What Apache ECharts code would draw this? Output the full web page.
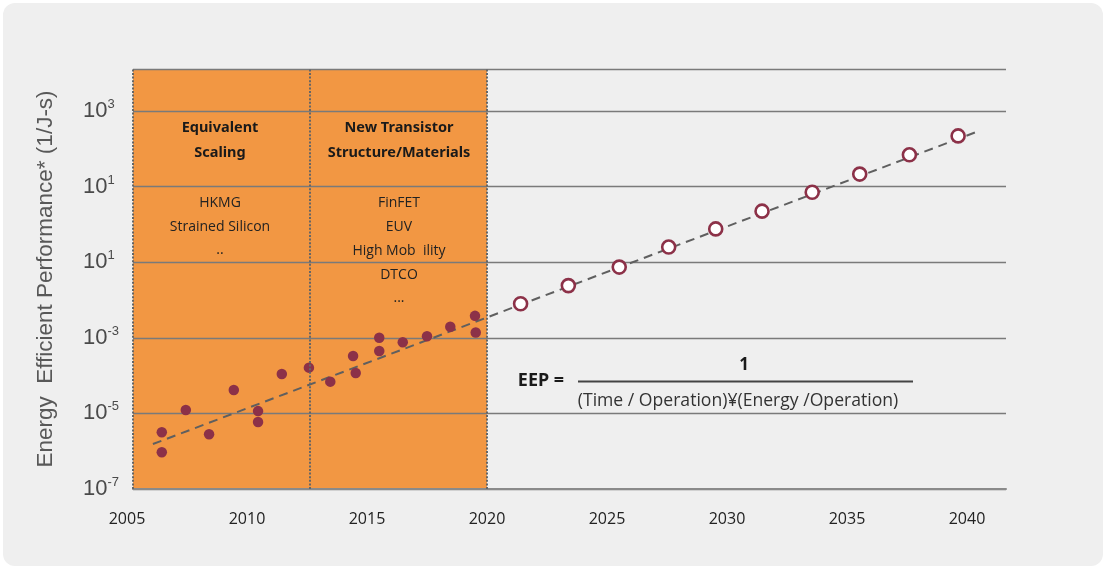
<!DOCTYPE html>
<html>
<head>
<meta charset="utf-8">
<script src="https://cdn.jsdelivr.net/npm/echarts@6/dist/echarts.min.js"></script>
<style>
  html, body { margin: 0; padding: 0; background: #ffffff; }
  #bg { position: absolute; left: 3px; top: 3px; width: 1100px; height: 563px; border-radius: 12px; background: #efefef; }
  #chart { position: absolute; left: 0; top: 0; width: 1106px; height: 569px; }
</style>
</head>
<body>
<div id="bg"></div>
<div id="chart"></div>
<script>
// ---- Data (EEP values stored as log10 exponents) ----
const histYears = [2006.45, 2006.45, 2007.45, 2008.42, 2009.45, 2010.46, 2010.46, 2011.45, 2012.58, 2013.47, 2014.42, 2014.53, 2015.51, 2015.51, 2016.49, 2017.5, 2018.47, 2019.5, 2019.53];
const histEEP   = [-5.5, -6.03, -4.91, -5.55, -4.38, -4.94, -5.23, -3.96, -3.79, -4.16, -3.48, -3.93, -3.0, -3.35, -3.12, -2.96, -2.71, -2.42, -2.86];
const projYears = [2021.4, 2023.39, 2025.51, 2027.57, 2029.53, 2031.46, 2033.55, 2035.53, 2037.6, 2039.63];
const projEEP   = [-2.10, -1.62, -1.13, -0.60, -0.12, 0.35, 0.85, 1.33, 1.84, 2.34];
const trendYears = [2006.08, 2040.33];
const trendEEP   = [-5.81, 2.43];
const xTickYears = [2005, 2010, 2015, 2020, 2025, 2030, 2035, 2040];
const yTickValues = [-7, -5, -3, -1, 1, 3];
const yTickSup    = ['-7', '-5', '-3', '1', '1', '3'];
const phaseBounds = [2005.25, 2012.625, 2020];
const phase1Title = ['Equivalent', 'Scaling'];
const phase1Items = ['HKMG', 'Strained Silicon', '..'];
const phase2Title = ['New Transistor', 'Structure/Materials'];
const phase2Items = ['FinFET', 'EUV', 'High Mob  ility', 'DTCO', '...'];
const yAxisName = 'Energy  Efficient Performance* (1/J-s)';

const MAROON = '#8c3148';
const ORANGE = '#f29743';

const chart = echarts.init(document.getElementById('chart'), null, { renderer: 'canvas' });

const histData = histYears.map((y, i) => [y, histEEP[i]]);
const projData = projYears.map((y, i) => [y, projEEP[i]]);
const trendData = trendYears.map((y, i) => [y, trendEEP[i]]);

const graphics = [];
function txt(x, y, s, bold, size, color, family) {
  graphics.push({
    type: 'text', x: x, y: y, silent: true, z: 50,
    style: {
      text: s, textAlign: 'center', textVerticalAlign: 'middle',
      font: (bold ? 'bold ' : '') + size + 'px ' + family,
      fill: color
    }
  });
}
const boldFam = '"Noto Sans", sans-serif';
const regFam = '"Open Sans", sans-serif';
txt(220, 128, phase1Title[0], true, 14.5, '#1a1a1a', boldFam);
txt(220, 153, phase1Title[1], true, 14.5, '#1a1a1a', boldFam);
txt(399, 128, phase2Title[0], true, 14.5, '#1a1a1a', boldFam);
txt(399, 153, phase2Title[1], true, 14.5, '#1a1a1a', boldFam);
const p1y = [203, 227, 250];
phase1Items.forEach((s, i) => txt(220, p1y[i], s, false, 14, '#222', regFam));
const p2y = [203, 227, 251, 275, 298];
phase2Items.forEach((s, i) => txt(399, p2y[i], s, false, 14, '#222', regFam));
// equation
txt(541, 381, 'EEP =', true, 18, '#1a1a1a', boldFam);
txt(744, 365, '1', true, 17, '#1a1a1a', boldFam);
txt(738, 401, '(Time / Operation)\u00a5(Energy /Operation)', false, 17.6, '#333', regFam);
graphics.push({ type: 'line', silent: true, z: 50, shape: { x1: 578, y1: 381.5, x2: 913, y2: 381.5 }, style: { stroke: '#444', lineWidth: 2 } });

const option = {
  backgroundColor: 'transparent',
  animation: false,
  grid: [
    { left: 133, top: 69, width: 873, height: 420 },
    { left: 127, top: 69, width: 879, height: 420 }
  ],
  xAxis: [
    {
      type: 'value', gridIndex: 0, min: phaseBounds[0], max: 2041.625,
      axisLine: { show: true, onZero: false, lineStyle: { color: '#8a8a8a', width: 2 } },
      axisTick: { show: false }, axisLabel: { show: false }, splitLine: { show: false }
    },
    {
      type: 'value', gridIndex: 1, min: 2005, max: 2041.625, interval: 5,
      axisLine: { show: false, onZero: false }, axisTick: { show: false }, splitLine: { show: false },
      axisLabel: {
        margin: 22, color: '#222', fontSize: 16, fontFamily: 'Open Sans',
        formatter: v => xTickYears.includes(v) ? String(v) : ''
      }
    }
  ],
  yAxis: [
    {
      type: 'value', gridIndex: 0, min: -7, max: 4.11, interval: 2,
      name: yAxisName, nameLocation: 'middle', nameGap: 76,
      nameTextStyle: { fontSize: 22.5, color: '#585858', fontFamily: 'Liberation Sans' },
      axisLine: { show: false }, axisTick: { show: false },
      splitLine: { show: true, lineStyle: { color: '#7a7a7a', width: 1.3 } },
      axisLabel: {
        align: 'left', margin: 50,
        formatter: v => {
          const i = yTickValues.indexOf(v);
          return i < 0 ? '' : '{b|10}{s|' + yTickSup[i] + '}';
        },
        rich: {
          b: { fontSize: 22, color: '#4a4a4a', fontFamily: 'Liberation Sans', lineHeight: 26 },
          s: { fontSize: 13, color: '#4a4a4a', fontFamily: 'Liberation Sans', verticalAlign: 'top', lineHeight: 14 }
        }
      }
    },
    { type: 'value', gridIndex: 1, min: -7, max: 4.11, show: false }
  ],
  series: [
    {
      name: 'band', type: 'line', xAxisIndex: 0, yAxisIndex: 0, data: [], z: -1,
      markArea: {
        silent: true, z: -1,
        itemStyle: { color: ORANGE },
        data: [[{ xAxis: phaseBounds[0] }, { xAxis: phaseBounds[2] }]]
      }
    },
    {
      name: 'trend', type: 'line', xAxisIndex: 0, yAxisIndex: 0, data: trendData,
      symbol: 'none', z: 3,
      lineStyle: { color: '#5f5f5f', width: 2, type: [9, 6] },
      markLine: {
        silent: true, symbol: 'none', label: { show: false },
        lineStyle: { color: '#666', width: 2, type: [2, 1.6] },
        data: phaseBounds.map(b => ({ xAxis: b }))
      }
    },
    {
      name: 'historical', type: 'scatter', xAxisIndex: 0, yAxisIndex: 0, data: histData,
      symbol: 'circle', symbolSize: 10.5, z: 4,
      itemStyle: { color: MAROON, opacity: 1 }
    },
    {
      name: 'projected', type: 'scatter', xAxisIndex: 0, yAxisIndex: 0, data: projData,
      symbol: 'circle', symbolSize: 13, z: 4,
      itemStyle: { color: '#ffffff', borderColor: MAROON, borderWidth: 2.6, opacity: 1 }
    }
  ],
  graphic: graphics
};
chart.setOption(option);
</script>
</body>
</html>
